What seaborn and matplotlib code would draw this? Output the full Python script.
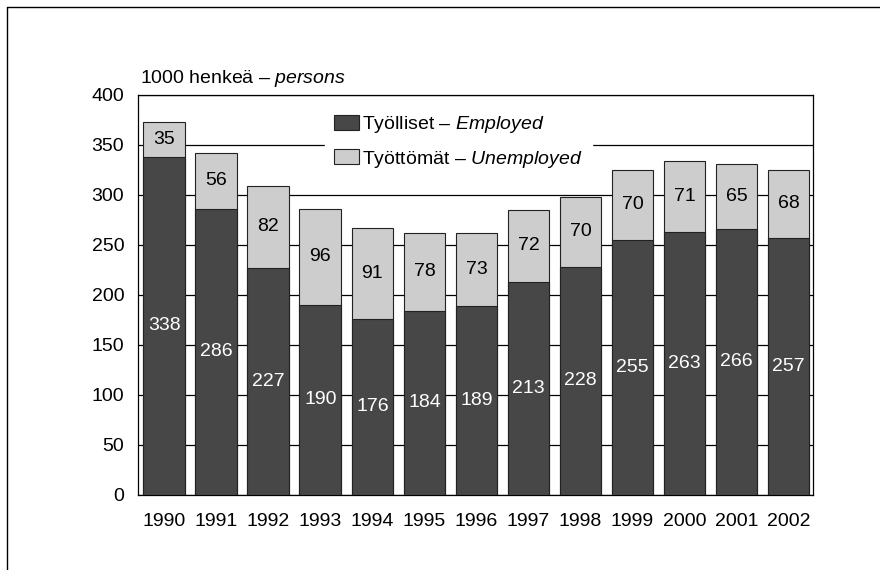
import numpy as np
import pandas as pd
import matplotlib
matplotlib.use("Agg")
import matplotlib.pyplot as plt
import matplotlib.patches as mpatches
from matplotlib.lines import Line2D
import seaborn as sns

# data (1000 persons)
years = ['1990', '1991', '1992', '1993', '1994', '1995', '1996',
         '1997', '1998', '1999', '2000', '2001', '2002']
employed = [338, 286, 227, 190, 176, 184, 189, 213, 228, 255, 263, 266, 257]
unemployed = [35, 56, 82, 96, 91, 78, 73, 72, 70, 70, 71, 65, 68]
yticks = [0, 50, 100, 150, 200, 250, 300, 350, 400]

df = pd.DataFrame({'year': years, 'employed': employed, 'unemployed': unemployed})
df['total'] = df['employed'] + df['unemployed']

sns.set_style('white')
plt.rcParams['font.family'] = ['Liberation Sans', 'DejaVu Sans']
plt.rcParams['mathtext.fontset'] = 'custom'
plt.rcParams['mathtext.rm'] = 'Liberation Sans'
plt.rcParams['mathtext.it'] = 'Liberation Sans:italic'
plt.rcParams['text.color'] = 'black'
plt.rcParams['xtick.color'] = 'black'
plt.rcParams['ytick.color'] = 'black'

dark = '#474747'
light = '#cdcdcd'
fs = 14

fig = plt.figure(figsize=(8.8, 5.7), dpi=100)
ax = fig.add_axes([0.157, 0.132, 0.767, 0.702])

# gridlines behind the bars
for t in yticks:
    ax.axhline(t, color='black', lw=0.9, zorder=0)

# stacked bars: total (light) then employed (dark) on top
sns.barplot(data=df, x='year', y='total', color=light, width=0.8,
            edgecolor='#222222', linewidth=0.8, saturation=1, ax=ax, zorder=2)
sns.barplot(data=df, x='year', y='employed', color=dark, width=0.8,
            edgecolor='#222222', linewidth=0.8, saturation=1, ax=ax, zorder=3)

# value labels
for i in range(len(years)):
    e = employed[i]
    u = unemployed[i]
    ax.text(i, e / 2, str(e), ha='center', va='center', fontsize=fs,
            color='white', zorder=5)
    ax.text(i, e + u / 2, str(u), ha='center', va='center', fontsize=fs,
            color='black', zorder=5)

ax.set_xlim(-0.5, 12.47)
ax.set_ylim(0, 400)
ax.set_yticks(yticks)
ax.set_xlabel('')
ax.set_ylabel('')
ax.tick_params(axis='both', length=0, labelsize=fs)
ax.tick_params(axis='y', pad=10)
ax.tick_params(axis='x', pad=13)
for s in ax.spines.values():
    s.set_visible(True)
    s.set_color('black')
    s.set_linewidth(0.9)

# unit label above the axes
ax.text(0.003, 1.04, '1000 henkeä \u2013 $\\it{persons}$', transform=ax.transAxes,
        fontsize=fs, ha='left', va='center')

# legend in a white box without border
handles = [mpatches.Patch(facecolor=dark, edgecolor='#222222', lw=0.8),
           mpatches.Patch(facecolor=light, edgecolor='#222222', lw=0.8)]
labels = ['Työlliset \u2013 $\\it{Employed}$', 'Työttömät \u2013 $\\it{Unemployed}$']
leg = ax.legend(handles, labels, loc='upper left', bbox_to_anchor=(0.262, 1.0),
                frameon=True, fontsize=fs, handlelength=1.25, handleheight=0.8,
                handletextpad=0.15, labelspacing=0.7, borderpad=0.5,
                fancybox=False)
leg.get_frame().set_facecolor('white')
leg.get_frame().set_edgecolor('white')
leg.get_frame().set_alpha(1)
leg.set_zorder(6)

# outer frame (left and top edges)
fig.add_artist(Line2D([0.008, 0.008], [0, 0.988], color='black', lw=1.0))
fig.add_artist(Line2D([0.008, 1.0], [0.988, 0.988], color='black', lw=1.0))

fig.savefig('out.png', dpi=100)
